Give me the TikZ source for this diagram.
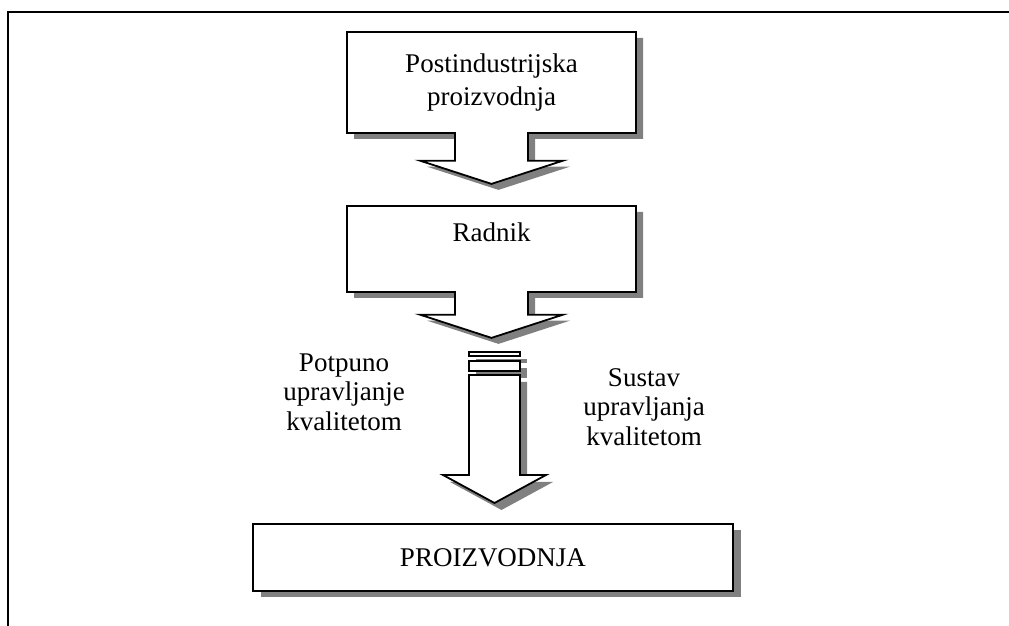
\documentclass[tikz,border=0pt]{standalone}
\usepackage{fontspec}
\setmainfont{Liberation Serif}
\usetikzlibrary{shapes.arrows,shadows}
\tikzset{
  flowbox/.style = {arrow box, draw, line width=0.9pt, fill=white, align=center,
                    minimum width=144.5pt, inner sep=2pt,
                    arrow box shaft width=36.5pt, arrow box head extend=17.5pt,
                    arrow box tip angle=144, arrow box head indent=0pt,
                    font=\fontsize{13.5pt}{16.5pt}\selectfont,
                    drop shadow={shadow xshift=3.5pt, shadow yshift=-3pt, fill=gray, opacity=1}},
  endbox/.style  = {rectangle, draw, line width=0.9pt, fill=white,
                    minimum width=240pt, minimum height=33.5pt,
                    font=\fontsize{13.5pt}{16.5pt}\selectfont,
                    drop shadow={shadow xshift=4pt, shadow yshift=-3pt, fill=gray, opacity=1}},
  note/.style    = {align=center, font=\fontsize{13.5pt}{14.8pt}\selectfont},
  stripe/.style  = {draw, line width=0.9pt, fill=white,
                    preaction={fill=gray, transform canvas={xshift=3.5pt, yshift=-3.5pt}}}
}

\begin{document}
\begin{tikzpicture}[x=0.5pt, y=-0.5pt]
  \useasboundingbox (0,0) rectangle (1009,626);

  % page frame
  \draw[line width=1.1pt] (1009,12) -- (8,12) -- (8,626);

  \node[flowbox, minimum height=50.5pt, arrow box arrows={south:25pt from border}]
    (post) at (491.5,82.5) {Postindustrijska\\proizvodnja};
  \node[flowbox, minimum height=43pt, arrow box arrows={south:22.5pt from border}]
    (radnik) at (491.5,249) {Radnik\\~};

  % striped arrow
  \draw[stripe] (469,352) rectangle (520,356);
  \draw[stripe] (469,361) rectangle (520,371);
  \draw[stripe] (469,375) -- (520,375) -- (520,475) -- (546,475) -- (494.5,503)
                -- (443,475) -- (469,475) -- cycle;

  \node[note] (tqm) at (344,392) {Potpuno\\upravljanje\\kvalitetom};
  \node[note] (qms) at (644,407) {Sustav\\upravljanja\\kvalitetom};

  \node[endbox] (proiz) at (493,557.5) {PROIZVODNJA};

\end{tikzpicture}
\end{document}
